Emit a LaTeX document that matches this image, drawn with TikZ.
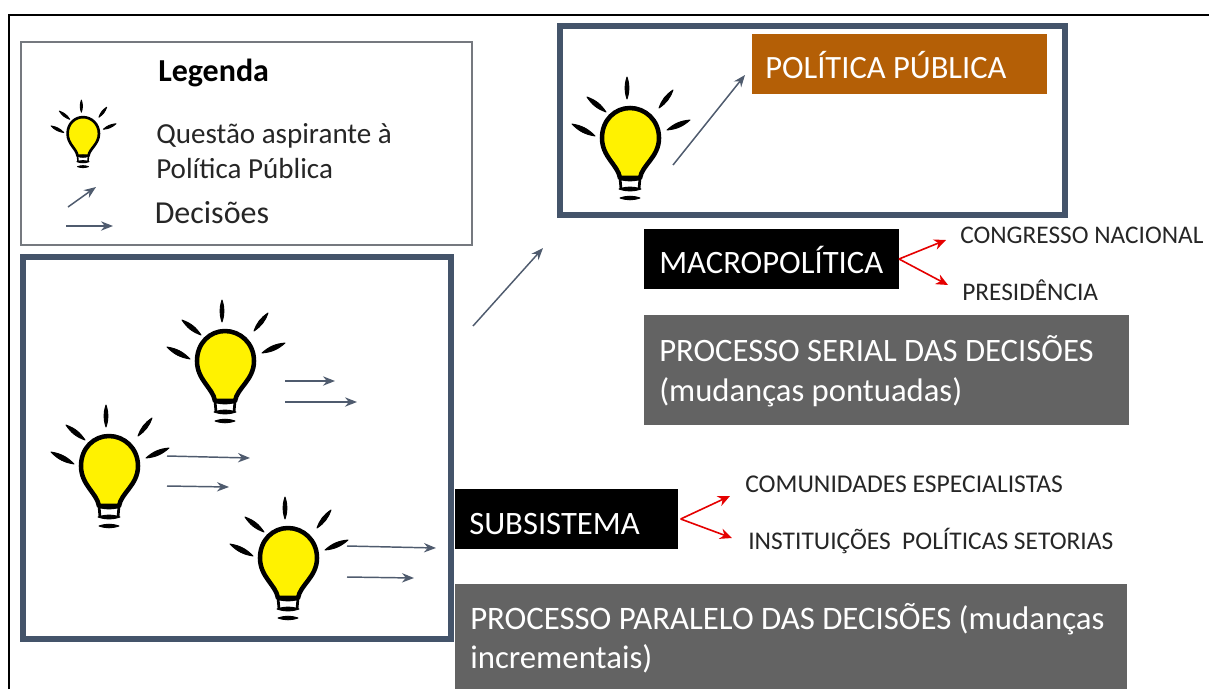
\documentclass[tikz,border=0pt]{standalone}
\usepackage{fontspec}
\setmainfont{Carlito}
\usetikzlibrary{arrows.meta}
\definecolor{slate}{HTML}{44546A}
\definecolor{slatearrow}{HTML}{4F5B6E}
\definecolor{greybox}{HTML}{636363}
\definecolor{orangebox}{HTML}{B45F06}
\definecolor{bulbyellow}{HTML}{FFF200}
\definecolor{legendline}{HTML}{75797F}
\newcommand{\fsz}[1]{\fontsize{#1}{#1}\selectfont}
\newcommand{\lens}[4]{\filldraw[black, line width=0.7pt, line join=round] (#1,#2) to[bend left=18] (#3,#4) to[bend left=18] (#1,#2) -- cycle;}
\tikzset{
  x=0.75pt, y=-0.75pt,
  frameline/.style={draw=slate, line width=4.5pt, fill=white, line join=miter},
  decide/.style={draw=slatearrow, line width=1.1pt, -{Stealth[length=9pt,width=7pt]}},
  redarrow/.style={draw=red!90!black, line width=1.2pt, -{Stealth[length=9pt,width=8pt]}},
  fillbox/.style={anchor=north west, inner sep=0pt, outer sep=0pt},
  lighttxt/.style={anchor=base west, inner sep=0pt, text=white},
  darktxt/.style={anchor=base west, inner sep=0pt, text=black!85},
  pics/bulb/.style={code={
    \path[fill=white] (-10,42) rectangle (10,58);
    \draw[line width=#1, fill=bulbyellow, line join=round]
      (-10,43) .. controls (-12,30) and (-28,22) .. (-28,3)
      .. controls (-28,-15) and (-15,-27) .. (0,-27)
      .. controls (15,-27) and (29,-15) .. (29,3)
      .. controls (29,22) and (12,30) .. (10,43) -- cycle;
    \draw[line width=#1*0.6] (-10,43) -- (-9,54) (10,43) -- (9,54);
    \lens{-11}{44}{11}{44}
    \lens{-11}{54}{11}{54}
    \lens{-10}{63}{10}{63}
    \lens{-3}{-58}{-3}{-36}
    \lens{-43}{-38}{-24}{-23}
    \lens{-58}{-11}{-35}{1}
    \lens{29}{-27}{43}{-45}
    \lens{37}{-5}{60}{-15}
  }}
}
\begin{document}
\begin{tikzpicture}
\useasboundingbox (0,0) rectangle (1209,689);
\fill[white] (0,0) rectangle (1209,689);
\draw[black, line width=1.5pt] (9,689) -- (9,15) -- (1209,15);

% legend
\node[fillbox, draw=legendline, line width=1pt, fill=white, minimum width=451*0.75pt, minimum height=203*0.75pt] (legend) at (21,42) {};
\pic[scale=.55] at (83,132) {bulb=2pt};
\node[darktxt, text=black] (legtitle) at (158,81) {\fsz{24}\bfseries Legenda};
\node[darktxt] (legq) at (156,143) {\fsz{21.8}Questão aspirante à};
\node[darktxt] (legp) at (156,178) {\fsz{21.8}Política Pública};
\node[darktxt] (legd) at (154.5,223) {\fsz{24}Decisões};
\coordinate (la1) at (68,207); \coordinate (la2) at (96,187);
\coordinate (lb1) at (66,226); \coordinate (lb2) at (113,226);
\draw[decide] (la1) -- (la2);
\draw[decide] (lb1) -- (lb2);

% top box
\node[fillbox, frameline, minimum width=505*0.75pt, minimum height=189*0.75pt] (topbox) at (560,26) {};
\node[fillbox, fill=orangebox, minimum width=295*0.75pt, minimum height=60*0.75pt] (pp) at (752,34) {};
\node[lighttxt] (pptxt) at (765,78) {\fsz{24.4}POLÍTICA PÚBLICA};
\pic at (630,135) {bulb=3.4pt};
\coordinate (ta1) at (673,165); \coordinate (ta2) at (745,75);
\draw[decide] (ta1) -- (ta2);

% main box
\node[fillbox, frameline, minimum width=428*0.75pt, minimum height=382*0.75pt] (mainbox) at (23,257) {};
\pic at (225,358) {bulb=3.4pt};
\pic at (109,463) {bulb=3.4pt};
\pic at (288,555) {bulb=3.4pt};
\coordinate (a1) at (285,381); \coordinate (a2) at (335,381);
\coordinate (b1) at (285,402); \coordinate (b2) at (357,402);
\coordinate (c1) at (167,456); \coordinate (c2) at (250,458);
\coordinate (d1) at (167,486); \coordinate (d2) at (229,487);
\coordinate (e1) at (347,546); \coordinate (e2) at (436,548);
\coordinate (f1) at (347,577); \coordinate (f2) at (414,578);
\draw[decide] (a1) -- (a2);
\draw[decide] (b1) -- (b2);
\draw[decide] (c1) -- (c2);
\draw[decide] (d1) -- (d2);
\draw[decide] (e1) -- (e2);
\draw[decide] (f1) -- (f2);
\coordinate (up1) at (473,326); \coordinate (up2) at (543,248);
\draw[decide] (up1) -- (up2);

% macro
\node[fillbox, fill=black, minimum width=255*0.75pt, minimum height=60*0.75pt] (macro) at (644,229) {};
\node[lighttxt] (macrotxt) at (659,273) {\fsz{24.5}MACROPOLÍTICA};
\coordinate (m1) at (946,240); \coordinate (m2) at (948,285);
\draw[redarrow] (macro.east) -- (m1);
\draw[redarrow] (macro.east) -- (m2);
\node[darktxt] (cn) at (960,243) {\fsz{19}CONGRESSO NACIONAL};
\node[darktxt] (pres) at (962,300) {\fsz{19}PRESIDÊNCIA};
\node[fillbox, fill=greybox, minimum width=485*0.75pt, minimum height=110*0.75pt] (serial) at (644,315) {};
\node[lighttxt] (s1) at (659,361) {\fsz{24.5}PROCESSO SERIAL DAS DECISÕES};
\node[lighttxt] (s2) at (659,401) {\fsz{24.5}(mudanças pontuadas)};

% subsistema
\node[fillbox, fill=black, minimum width=223*0.75pt, minimum height=60*0.75pt] (sub) at (455,489) {};
\node[lighttxt] (subtxt) at (469,534) {\fsz{24.5}SUBSISTEMA};
\coordinate (n1) at (730,496); \coordinate (n2) at (732,538);
\draw[redarrow] ([xshift=2pt]sub.east) -- (n1);
\draw[redarrow] ([xshift=2pt]sub.east) -- (n2);
\node[darktxt] (ce) at (745,492) {\fsz{19.2}COMUNIDADES ESPECIALISTAS};
\node[darktxt] (ips) at (748,549) {\fsz{19.1}INSTITUIÇÕES\ \ POLÍTICAS SETORIAS};
\node[fillbox, fill=greybox, minimum width=672*0.75pt, minimum height=105*0.75pt] (par) at (455,584) {};
\node[lighttxt] (p1) at (470,629) {\fsz{24.6}PROCESSO PARALELO DAS DECISÕES (mudanças};
\node[lighttxt] (p2) at (470,668) {\fsz{24.6}incrementais)};
\end{tikzpicture}
\end{document}
